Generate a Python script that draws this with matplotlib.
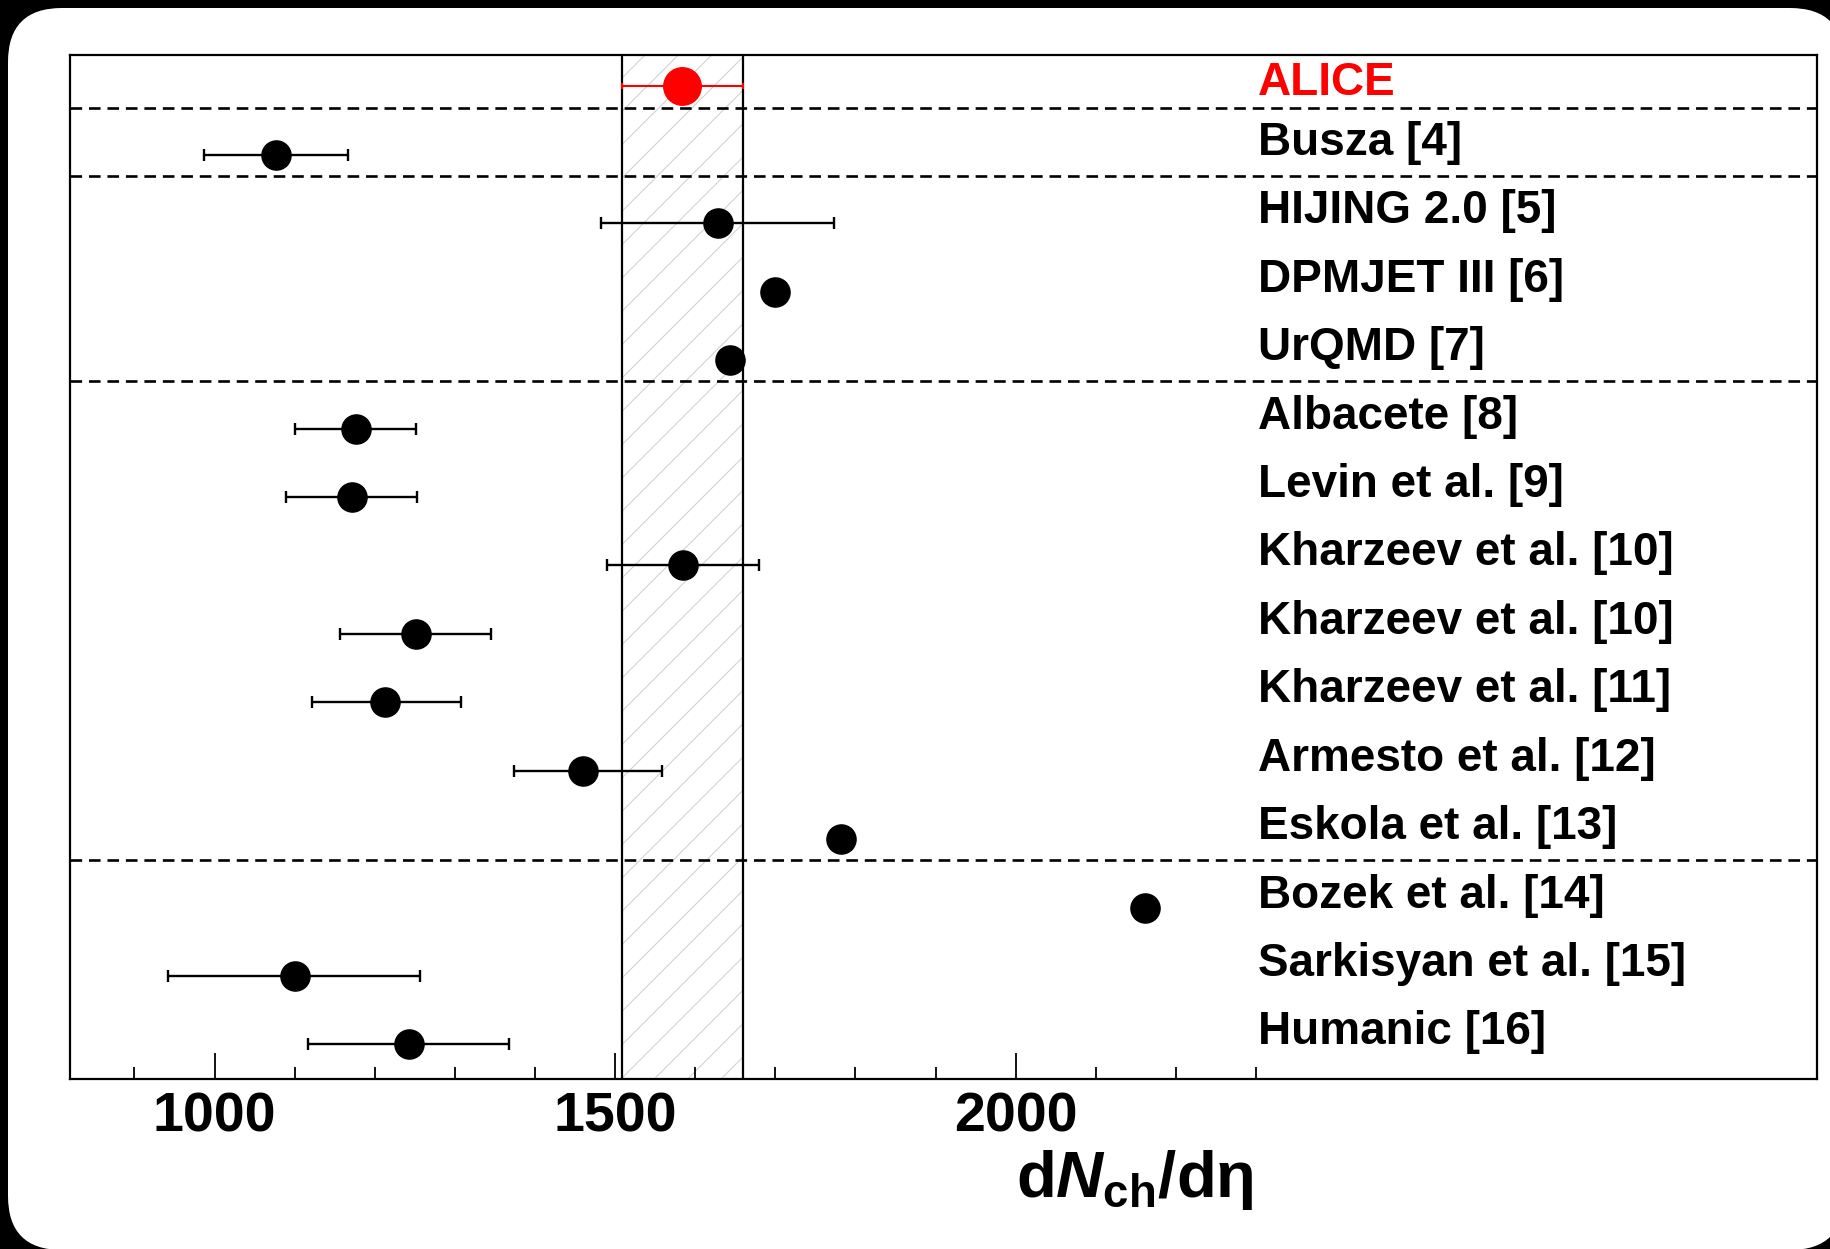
import matplotlib
matplotlib.use("Agg")
import matplotlib.pyplot as plt
import numpy as np
from matplotlib.patches import FancyBboxPatch
from matplotlib.transforms import IdentityTransform
from matplotlib.ticker import FixedLocator

plt.rcParams['font.family'] = ['Liberation Sans', 'DejaVu Sans']
plt.rcParams['font.weight'] = 'bold'
plt.rcParams['mathtext.fontset'] = 'custom'
plt.rcParams['mathtext.rm'] = 'Liberation Sans:bold'
plt.rcParams['mathtext.it'] = 'Liberation Sans:bold:italic'
plt.rcParams['mathtext.bf'] = 'Liberation Sans:bold'
plt.rcParams['hatch.linewidth'] = 0.8

# measured multiplicity and its systematic band
alice_label = 'ALICE'
alice_val = 1584
alice_sys = 76

# model predictions, top to bottom
models = ['Busza [4]', 'HIJING 2.0 [5]', 'DPMJET III [6]', 'UrQMD [7]',
          'Albacete [8]', 'Levin et al. [9]', 'Kharzeev et al. [10]',
          'Kharzeev et al. [10]', 'Kharzeev et al. [11]', 'Armesto et al. [12]',
          'Eskola et al. [13]', 'Bozek et al. [14]', 'Sarkisyan et al. [15]',
          'Humanic [16]']
values = [1077, 1628, 1700, 1643, 1176, 1172, 1585, 1251, 1213, 1460,
          1782, 2161, 1100, 1243]
err_lo = [90, 145, 0, 0, 76, 83, 95, 94, 92, 86, 0, 0, 158, 126]
err_hi = [90, 145, 0, 0, 75, 81, 95, 94, 94, 98, 0, 0, 157, 125]

# rows (0 = ALICE) where a new group of models starts
group_starts = [1, 2, 5, 12]

major_ticks = [1000, 1500, 2000]
minor_ticks = [900, 1100, 1200, 1300, 1400, 1600, 1700, 1800, 1900,
               2100, 2200, 2300]

W, H = 1831, 1249
fig = plt.figure(figsize=(W / 100, H / 100), dpi=100)
fig.patch.set_facecolor('black')

# white card with rounded corners behind everything
card = FancyBboxPatch((8, -1), 1836, 1242, boxstyle='round,pad=0,rounding_size=54',
                      transform=IdentityTransform(), facecolor='white',
                      edgecolor='none', zorder=-5)
fig.patches.append(card)

ax = fig.add_axes([70.4 / W, 1 - 1079.3 / H, (1816.7 - 70.4) / W, (1079.3 - 55) / H])
ax.set_facecolor('white')

n = len(models) + 1
ypos = n - np.arange(n)          # ALICE at top
ax.set_xlim(820, 3000)
ax.set_ylim(0.49, n + 0.46)

# systematic band of the measurement
ax.axvspan(alice_val - alice_sys, alice_val + alice_sys, facecolor='none',
           edgecolor='#d2d2d2', hatch='/', linewidth=0, zorder=1)
for xv in (alice_val - alice_sys, alice_val + alice_sys):
    ax.axvline(xv, color='black', lw=1.6, zorder=2)

# group separators
for g in group_starts:
    ax.axhline(ypos[g - 1] - 0.31, color='black', lw=1.9,
               linestyle=(0, (4.4, 2.6)), zorder=2)

# ALICE point
ax.errorbar([alice_val], [ypos[0]], xerr=[alice_sys], fmt='o', color='red',
            ms=27, elinewidth=1.5, capsize=2.5, capthick=1.5, zorder=4)

vals = np.array(values, dtype=float)
lo = np.array(err_lo, dtype=float)
hi = np.array(err_hi, dtype=float)
ym = ypos[1:]
has_err = (lo > 0) | (hi > 0)
ax.errorbar(vals[has_err], ym[has_err], xerr=[lo[has_err], hi[has_err]],
            fmt='none', ecolor='black', elinewidth=1.7, capsize=4.4,
            capthick=1.7, zorder=3)
ax.plot(vals, ym, 'o', color='black', ms=21, zorder=4)

# row labels
ax.text(2302, ypos[0] - 0.12, alice_label, color='red', fontsize=33,
        fontweight='bold', va='baseline', ha='left', zorder=5)
for name, y in zip(models, ym):
    ax.text(2302, y, name, color='black', fontsize=33, fontweight='bold',
            va='baseline', ha='left', zorder=5)

# axis styling
for s in ax.spines.values():
    s.set_linewidth(1.6)
ax.set_yticks([])
ax.xaxis.set_major_locator(FixedLocator(major_ticks))
ax.xaxis.set_minor_locator(FixedLocator(minor_ticks))
ax.set_xticklabels([str(t) for t in major_ticks])
ax.tick_params(axis='x', which='major', direction='in', length=19, width=1.3,
               labelsize=40, pad=9)
ax.tick_params(axis='x', which='minor', direction='in', length=9, width=1.3)
for lab in ax.get_xticklabels():
    lab.set_fontweight('bold')

fig.text(0.62, 52 / H, r'$\mathrm{d}N_{\mathrm{ch}}\mathrm{/d}\mathrm{\eta}$',
         fontsize=47, ha='center', va='baseline', color='black')

fig.savefig('out.png', dpi=100, facecolor=fig.get_facecolor())
